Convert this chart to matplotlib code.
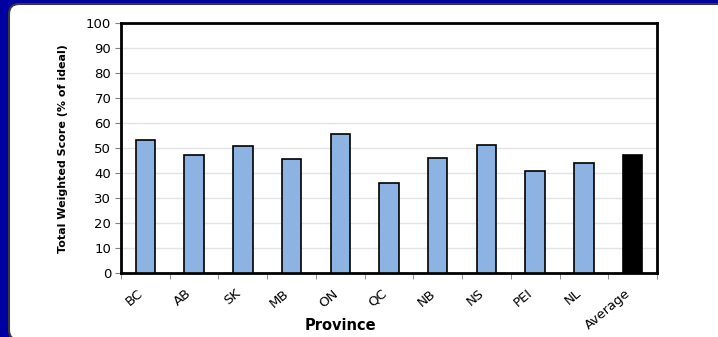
import numpy as np
import matplotlib.pyplot as plt
from matplotlib.patches import FancyBboxPatch

provinces = ["BC", "AB", "SK", "MB", "ON", "QC", "NB", "NS", "PEI", "NL", "Average"]
scores = [53.1, 47.3, 50.7, 45.5, 55.7, 35.9, 46.0, 51.3, 40.8, 44.1, 47.1]
bar_colors = ["#8DB3E2"] * 10 + ["#000000"]
yticks = list(range(0, 101, 10))

plt.rcParams['font.family'] = ['DejaVu Sans']

W, H = 718, 337
fig = plt.figure(figsize=(W / 100, H / 100), dpi=100)
fig.patch.set_facecolor("#0000A0")

# white rounded panel, running off the right and bottom edges
panel = FancyBboxPatch((9 / W, -3 / H), 740 / W, 336 / H,
                       boxstyle="round,pad=0,rounding_size=0.014",
                       transform=fig.transFigure, facecolor="white",
                       edgecolor="#3a3a3a", linewidth=1.5, zorder=-5,
                       mutation_aspect=W / H)
fig.patches.append(panel)

ax = fig.add_axes([121 / W, 64 / H, 536 / W, 250 / H])
ax.set_zorder(2)
ax.set_facecolor("white")

x = np.arange(len(provinces))
ax.bar(x, scores, width=0.4, color=bar_colors, edgecolor="black",
       linewidth=1.2, zorder=3)

ax.set_xlim(-0.5, len(provinces) - 0.5)
ax.set_ylim(0, 100)
ax.set_yticks(yticks)
ax.yaxis.grid(True, color="#e3e3e3", linewidth=1, zorder=0)
ax.set_axisbelow(True)

ax.set_xticks(x)
ax.set_xticklabels(provinces, rotation=40, ha="right", va="top")
ax.set_xticks(np.arange(-0.5, len(provinces), 1), minor=True)
ax.tick_params(axis="x", which="major", length=0, pad=10, labelsize=9.5)
ax.tick_params(axis="x", which="minor", length=4, color="#808080")
ax.tick_params(axis="y", length=4, color="#808080", labelsize=9.5, pad=3)

for s in ax.spines.values():
    s.set_linewidth(2)
    s.set_color("black")

fig.text(340 / W, (337 - 325) / H, "Province", ha="center", va="center",
         fontsize=10.5, fontweight="bold", zorder=3)
fig.text(63 / W, (337 - 149) / H, "Total Weighted Score (% of ideal)",
         ha="center", va="center", rotation=90, fontsize=8,
         fontweight="bold", zorder=3)

fig.savefig("out.png", dpi=100, facecolor=fig.get_facecolor())
